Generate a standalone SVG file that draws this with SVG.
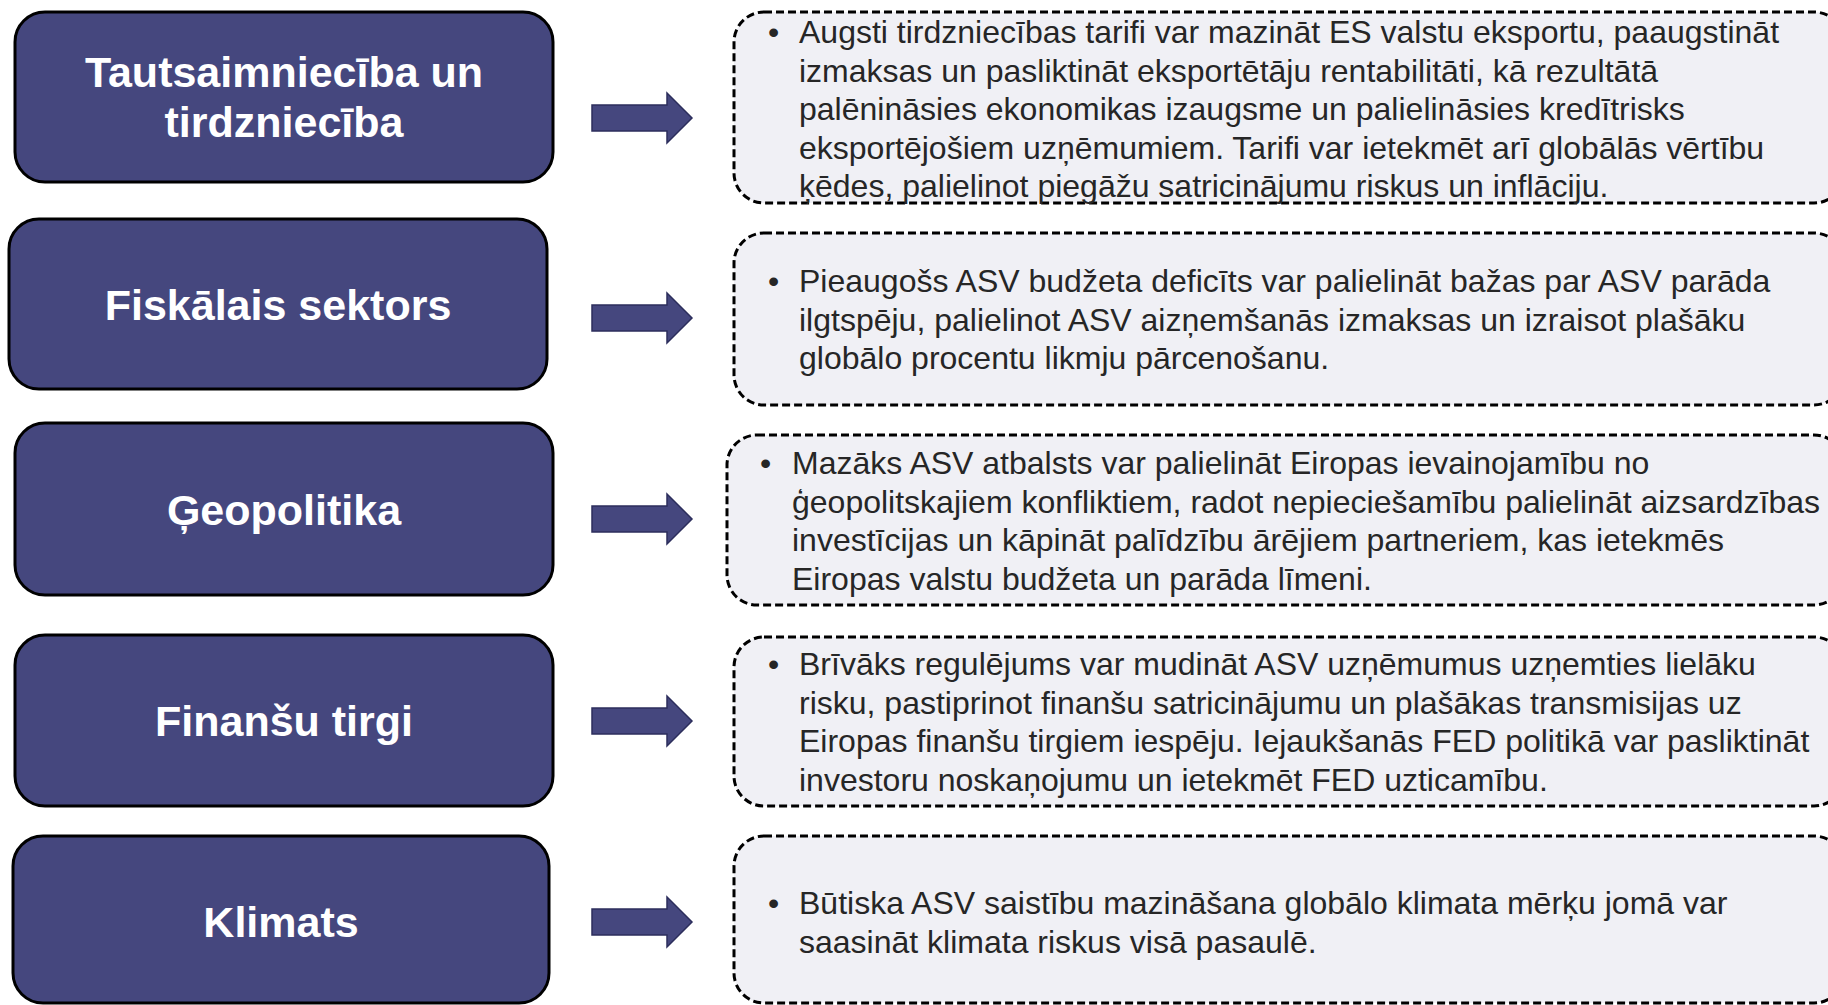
<svg xmlns="http://www.w3.org/2000/svg" width="1828" height="1005" viewBox="0 0 1828 1005">
<style>
.node{fill:#45477e;stroke:#000;stroke-width:3}
.title{font-family:"Liberation Sans",Arial,sans-serif;font-weight:bold;font-size:43px;fill:#fff;text-anchor:middle}
.box{fill:#f0f0f5;stroke:#000;stroke-width:3;stroke-dasharray:8 4}
.body{font-family:"Liberation Sans",Arial,sans-serif;font-size:32px;fill:#262626}
.arrow{fill:#45477e;stroke:#2c2e5c;stroke-width:1.5}
</style>
<rect width="1828" height="1005" fill="#fff"/>
<g id="node-trade">
<rect class="node" x="15" y="12" width="538" height="170" rx="30"/>
<text class="title" x="284" y="87">Tautsaimniecība un</text>
<text class="title" x="284" y="137">tirdzniecība</text>
</g>
<g id="node-fiscal">
<rect class="node" x="9" y="219" width="538" height="170" rx="30"/>
<text class="title" x="278" y="320">Fiskālais sektors</text>
</g>
<g id="node-geo">
<rect class="node" x="15" y="423" width="538" height="172" rx="30"/>
<text class="title" x="284" y="525">Ģeopolitika</text>
</g>
<g id="node-fin">
<rect class="node" x="15" y="635" width="538" height="171" rx="30"/>
<text class="title" x="284" y="736">Finanšu tirgi</text>
</g>
<g id="node-climate">
<rect class="node" x="13" y="836" width="536" height="167" rx="30"/>
<text class="title" x="281" y="937">Klimats</text>
</g>
<g id="connectors">
<polygon class="arrow" points="592,105 667,105 667,93 692,118 667,143 667,131 592,131"/>
<polygon class="arrow" points="592,305 667,305 667,293 692,318 667,343 667,331 592,331"/>
<polygon class="arrow" points="592,506 667,506 667,494 692,519 667,544 667,532 592,532"/>
<polygon class="arrow" points="592,708 667,708 667,696 692,721 667,746 667,734 592,734"/>
<polygon class="arrow" points="592,909 667,909 667,897 692,922 667,947 667,935 592,935"/>
</g>
<g id="desc-trade">
<rect class="box" x="734" y="12" width="1110" height="191" rx="30"/>
<text class="body" x="768" y="43">•</text>
<text class="body" x="799" y="43">Augsti tirdzniecības tarifi var mazināt ES valstu eksportu, paaugstināt</text>
<text class="body" x="799" y="81.5">izmaksas un pasliktināt eksportētāju rentabilitāti, kā rezultātā</text>
<text class="body" x="799" y="120">palēnināsies ekonomikas izaugsme un palielināsies kredītrisks</text>
<text class="body" x="799" y="158.5">eksportējošiem uzņēmumiem. Tarifi var ietekmēt arī globālās vērtību</text>
<text class="body" x="799" y="197">ķēdes, palielinot piegāžu satricinājumu riskus un inflāciju.</text>
</g>
<g id="desc-fiscal">
<rect class="box" x="734" y="233" width="1110" height="172" rx="30"/>
<text class="body" x="768" y="292">•</text>
<text class="body" x="799" y="292">Pieaugošs ASV budžeta deficīts var palielināt bažas par ASV parāda</text>
<text class="body" x="799" y="330.5">ilgtspēju, palielinot ASV aizņemšanās izmaksas un izraisot plašāku</text>
<text class="body" x="799" y="369">globālo procentu likmju pārcenošanu.</text>
</g>
<g id="desc-geo">
<rect class="box" x="727" y="435" width="1117" height="170" rx="30"/>
<text class="body" x="760" y="474">•</text>
<text class="body" x="792" y="474">Mazāks ASV atbalsts var palielināt Eiropas ievainojamību no</text>
<text class="body" x="792" y="512.5">ģeopolitskajiem konfliktiem, radot nepieciešamību palielināt aizsardzības</text>
<text class="body" x="792" y="551">investīcijas un kāpināt palīdzību ārējiem partneriem, kas ietekmēs</text>
<text class="body" x="792" y="589.5">Eiropas valstu budžeta un parāda līmeni.</text>
</g>
<g id="desc-fin">
<rect class="box" x="734" y="637" width="1110" height="169" rx="30"/>
<text class="body" x="768" y="675">•</text>
<text class="body" x="799" y="675">Brīvāks regulējums var mudināt ASV uzņēmumus uzņemties lielāku</text>
<text class="body" x="799" y="713.5">risku, pastiprinot finanšu satricinājumu un plašākas transmisijas uz</text>
<text class="body" x="799" y="752">Eiropas finanšu tirgiem iespēju. Iejaukšanās FED politikā var pasliktināt</text>
<text class="body" x="799" y="790.5">investoru noskaņojumu un ietekmēt FED uzticamību.</text>
</g>
<g id="desc-climate">
<rect class="box" x="734" y="836" width="1110" height="167" rx="30"/>
<text class="body" x="768" y="914">•</text>
<text class="body" x="799" y="914">Būtiska ASV saistību mazināšana globālo klimata mērķu jomā var</text>
<text class="body" x="799" y="952.5">saasināt klimata riskus visā pasaulē.</text>
</g>
</svg>
